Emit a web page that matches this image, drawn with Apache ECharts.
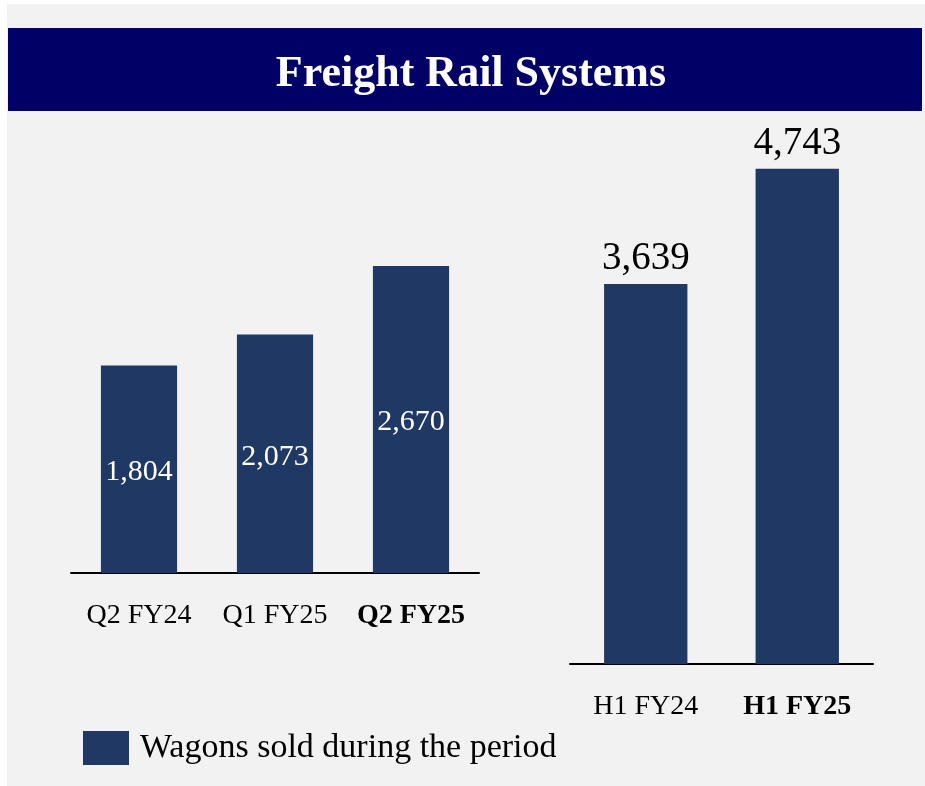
<!DOCTYPE html>
<html lang="en">
<head>
    <meta charset="UTF-8">
    <title>Freight Rail Systems</title>
    <script src="https://cdn.jsdelivr.net/npm/echarts@6.0.0/dist/echarts.min.js"></script>
    <style>
        body { margin: 0; background: #ffffff; }
    </style>
</head>
<body>
    <div id="main" style="width: 925px;height:786px;"></div>
    <script type="text/javascript">
        // Quarterly and half-year wagon sales
        const quarterCategories = ['Q2 FY24', 'Q1 FY25', 'Q2 FY25'];
        const quarterValues = [1804, 2073, 2670];
        const halfCategories = ['H1 FY24', 'H1 FY25'];
        const halfValues = [3639, 4743];
        const seriesName = 'Wagons sold during the period';

        const barColor = '#203864';
        const font = 'Liberation Serif, Times New Roman, serif';

        let myChart = echarts.init(document.getElementById('main'));

        // last category label is bold in both panels
        function catLabel(list) {
            return function (value, idx) {
                return idx === list.length - 1 ? '{b|' + value + '}' : value;
            };
        }

        function xAxisFor(gridIndex, cats) {
            return {
                type: 'category',
                gridIndex: gridIndex,
                data: cats,
                axisLine: { lineStyle: { color: '#000', width: 2 } },
                axisTick: { show: false },
                axisLabel: {
                    interval: 0,
                    color: '#000',
                    fontFamily: font,
                    fontSize: 28,
                    margin: 29,
                    formatter: catLabel(cats),
                    rich: { b: { fontWeight: 'bold', fontFamily: font, fontSize: 28, color: '#000' } }
                }
            };
        }

        function yAxisFor(gridIndex, max) {
            return {
                type: 'value',
                gridIndex: gridIndex,
                min: 0,
                max: max,
                show: false
            };
        }

        let option = {
            animation: false,
            graphic: [
                { type: 'rect', shape: { x: 7, y: 4, width: 918, height: 782 }, style: { fill: '#F2F2F2' }, z: -10 },
                { type: 'rect', shape: { x: 8, y: 28, width: 914, height: 83 }, style: { fill: '#000066' }, z: -9 }
            ],
            title: {
                text: 'Freight Rail Systems',
                left: 466,
                top: 48,
                textAlign: 'center',
                textStyle: { color: '#fff', fontFamily: font, fontWeight: 'bold', fontSize: 44 }
            },
            legend: {
                left: 83,
                top: 731,
                padding: 0,
                icon: 'rect',
                itemWidth: 46,
                itemHeight: 34,
                data: [seriesName],
                textStyle: { color: '#000', fontFamily: font, fontSize: 34, padding: [0, 0, 0, 6] }
            },
            grid: [
                { left: 71, width: 408, top: 228, bottom: 213 },
                { left: 570, width: 303, top: 142, bottom: 122 }
            ],
            xAxis: [xAxisFor(0, quarterCategories), xAxisFor(1, halfCategories)],
            yAxis: [yAxisFor(0, 3000), yAxisFor(1, 5000)],
            series: [
                {
                    name: seriesName,
                    type: 'bar',
                    xAxisIndex: 0,
                    yAxisIndex: 0,
                    data: quarterValues,
                    barCategoryGap: '44%',
                    itemStyle: { color: barColor },
                    label: {
                        show: true,
                        position: 'inside',
                        offset: [0, 3],
                        color: '#fff',
                        fontFamily: font,
                        fontSize: 30,
                        formatter: p => p.value.toLocaleString('en-US')
                    }
                },
                {
                    name: seriesName,
                    type: 'bar',
                    xAxisIndex: 1,
                    yAxisIndex: 1,
                    data: halfValues,
                    barCategoryGap: '45%',
                    itemStyle: { color: barColor },
                    label: {
                        show: true,
                        position: 'top',
                        distance: 6,
                        color: '#000',
                        fontFamily: font,
                        fontSize: 39,
                        formatter: p => p.value.toLocaleString('en-US')
                    }
                }
            ]
        };

        myChart.setOption(option);
    </script>
</body>
</html>
